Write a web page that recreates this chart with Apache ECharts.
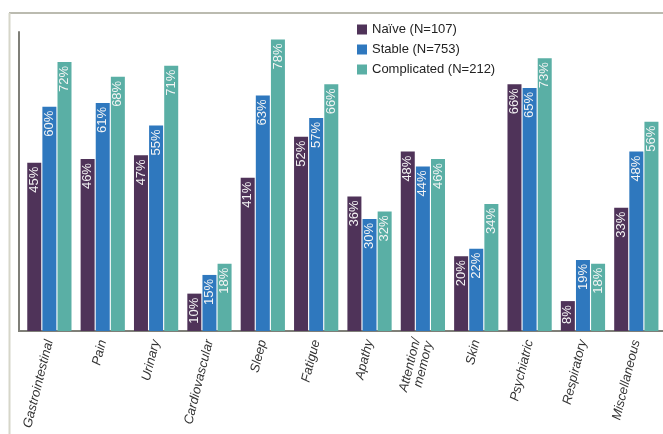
<!DOCTYPE html>
<html>
<head>
<meta charset="utf-8">
<script src="https://cdn.jsdelivr.net/npm/echarts@6/dist/echarts.min.js"></script>
<style>
  html, body { margin: 0; padding: 0; background: #ffffff; }
  #chart { width: 663px; height: 434px; }
</style>
</head>
<body>
<div id="chart"></div>
<script>
// Symptom categories along the x axis
const categories = [
  'Gastrointestinal', 'Pain', 'Urinary', 'Cardiovascular', 'Sleep', 'Fatigue',
  'Apathy', 'Attention/\nmemory', 'Skin', 'Psychiatric', 'Respiratory', 'Miscellaneous'
];

// Share of patients reporting each symptom group (%)
const naive       = [45, 46, 47, 10, 41, 52, 36, 48, 20, 66, 8, 33];
const stable      = [60, 61, 55, 15, 63, 57, 30, 44, 22, 65, 19, 48];
const complicated = [72, 68, 71, 18, 78, 66, 32, 46, 34, 73, 18, 56];

const seriesNames = ['Naïve (N=107)', 'Stable (N=753)', 'Complicated (N=212)'];
const seriesColors = ['#4f3359', '#2f78be', '#5aafa5'];

const chart = echarts.init(document.getElementById('chart'), null, { renderer: 'canvas' });

const barLabel = {
  show: true,
  position: 'insideTop',
  rotate: 90,
  align: 'right',
  verticalAlign: 'middle',
  distance: 4,
  color: '#f4f4f4',
  fontSize: 13,
  fontFamily: 'Liberation Sans',
  formatter: p => p.value + '%'
};

function makeSeries(name, data, color) {
  return {
    name: name,
    type: 'bar',
    data: data,
    barWidth: 14,
    barGap: '8%',
    itemStyle: { color: color },
    label: barLabel
  };
}

chart.setOption({
  animation: false,
  backgroundColor: '#ffffff',
  textStyle: { fontFamily: 'Liberation Sans' },
  legend: {
    orient: 'vertical',
    left: 352,
    top: 18,
    itemWidth: 10,
    itemHeight: 10,
    itemGap: 7,
    icon: 'rect',
    textStyle: { fontSize: 13, color: '#222222', fontFamily: 'Liberation Sans' },
    data: seriesNames
  },
  grid: { left: 22.7, right: -2.3, top: 32, bottom: 103, containLabel: false },
  xAxis: {
    type: 'category',
    data: categories,
    axisLine: { show: true, lineStyle: { color: '#7f7f78', width: 2 } },
    axisTick: { show: false },
    axisLabel: {
      rotate: 76,
      interval: 0,
      margin: 9,
      fontSize: 13,
      fontStyle: 'italic',
      color: '#333333',
      fontFamily: 'Liberation Sans',
      lineHeight: 13
    }
  },
  yAxis: {
    type: 'value',
    min: 0,
    max: 80,
    offset: 4,
    axisLine: { show: true, lineStyle: { color: '#7f7f78', width: 2 } },
    axisTick: { show: false },
    axisLabel: { show: false },
    splitLine: { show: false }
  },
  graphic: [
    // outer frame: top and left border
    { type: 'line', silent: true, shape: { x1: 9, y1: 13, x2: 663, y2: 13 },
      style: { stroke: '#a5a596', lineWidth: 1.5 } },
    { type: 'line', silent: true, shape: { x1: 9.5, y1: 13, x2: 9.5, y2: 434 },
      style: { stroke: '#d6d6c9', lineWidth: 2 } },
    // join the baseline to the y axis
    { type: 'line', silent: true, shape: { x1: 18, y1: 331, x2: 24, y2: 331 },
      style: { stroke: '#7f7f78', lineWidth: 2 } }
  ],
  series: [
    makeSeries(seriesNames[0], naive, seriesColors[0]),
    makeSeries(seriesNames[1], stable, seriesColors[1]),
    makeSeries(seriesNames[2], complicated, seriesColors[2])
  ]
});
</script>
</body>
</html>
